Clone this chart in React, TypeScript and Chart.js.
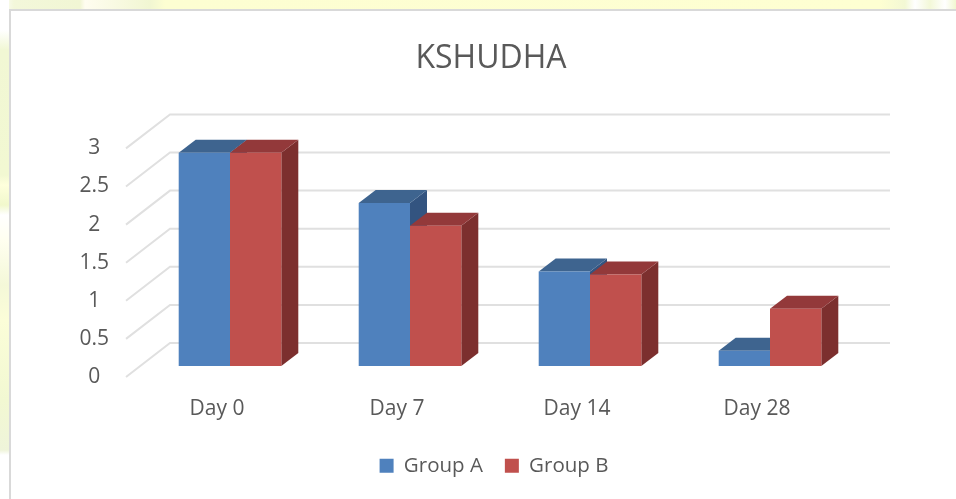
import React, { useEffect, useRef } from "react";
import { Chart, registerables } from "chart.js";

Chart.register(...registerables);

const categories = ["Day 0", "Day 7", "Day 14", "Day 28"];
const groupA = [2.8, 2.14, 1.24, 0.2];
const groupB = [2.8, 1.84, 1.2, 0.75];
const yTicks = [0, 0.5, 1, 1.5, 2, 2.5, 3];

const FONT = '"Open Sans", sans-serif';
const TEXT = "#595959";
const GRID = "#e0e0e0";
const FRONT = ["#4f81bd", "#c0504d"];
const TOP = ["#3e648f", "#93393a"];
const SIDE = ["#335480", "#7c2f2e"];
const BAR_DX = 17;
const BAR_DY = 13;
const WALL_DX = 30;
const WALL_DY = 23;
const FLOOR_DX = 14;
const FLOOR_DY = 11;

const poly = (ctx: CanvasRenderingContext2D, pts: number[][], fill: string) => {
  ctx.beginPath();
  pts.forEach(([x, y], i) => (i ? ctx.lineTo(x, y) : ctx.moveTo(x, y)));
  ctx.closePath();
  ctx.fillStyle = fill;
  ctx.fill();
};

const depthPlugin = {
  id: "depth",
  afterLayout(chart: any) {
    chart.legend.left += 3;
    chart.legend.right += 3;
  },
  beforeDatasetsDraw(chart: any) {
    const { ctx, chartArea, scales } = chart;
    ctx.save();
    ctx.strokeStyle = GRID;
    ctx.lineWidth = 2;
    yTicks.forEach((v) => {
      const y = scales.y.getPixelForValue(v);
      ctx.beginPath();
      ctx.moveTo(chartArea.left - FLOOR_DX, y + FLOOR_DY);
      ctx.lineTo(chartArea.left + WALL_DX, y - WALL_DY);
      ctx.lineTo(chartArea.right + WALL_DX, y - WALL_DY);
      ctx.stroke();
    });
    categories.forEach((_, i) => {
      chart.data.datasets.forEach((_d: any, d: number) => {
        const bar = chart.getDatasetMeta(d).data[i];
        const l = bar.x - bar.width / 2;
        const r = bar.x + bar.width / 2;
        poly(ctx, [[r, bar.y], [r + BAR_DX, bar.y - BAR_DY], [r + BAR_DX, bar.base - BAR_DY], [r, bar.base]], SIDE[d]);
        poly(ctx, [[l, bar.y], [l + BAR_DX, bar.y - BAR_DY], [r + BAR_DX, bar.y - BAR_DY], [r, bar.y]], TOP[d]);
      });
    });
    ctx.restore();
  },
};

export default function App() {
  const ref = useRef<HTMLCanvasElement>(null);
  useEffect(() => {
    const chart = new Chart(ref.current!, {
      type: "bar",
      data: {
        labels: categories,
        datasets: [
          { label: "Group A", data: groupA, backgroundColor: FRONT[0] },
          { label: "Group B", data: groupB, backgroundColor: FRONT[1] },
        ],
      },
      options: {
        responsive: false,
        animation: false,
        layout: { padding: { left: 26, right: 0, top: 0, bottom: 13 } },
        datasets: { bar: { categoryPercentage: 0.57, barPercentage: 1 } },
        scales: {
          x: {
            grid: { display: false, drawTicks: false },
            border: { display: false },
            afterFit: (s: any) => { s.height = 67.5; },
            ticks: {
              font: { family: FONT, size: 21 },
              color: TEXT,
              padding: 30,
              labelOffset: -13,
              maxRotation: 0,
              autoSkip: false,
            },
          },
          y: {
            min: 0,
            max: 3,
            grid: { display: false, drawTicks: false },
            border: { display: false },
            afterFit: (s: any) => { s.width = 114; },
            ticks: {
              stepSize: 0.5,
              font: { family: FONT, size: 21 },
              color: TEXT,
              padding: 31,
              crossAlign: "center",
              labelOffset: 11,
              callback: (v: any) => String(v),
            },
          },
          spacer: {
            type: "linear",
            position: "right",
            display: true,
            grid: { display: false, drawTicks: false },
            border: { display: false },
            ticks: { display: false },
            afterFit: (s: any) => { s.width = 96; },
          },
        },
        plugins: {
          tooltip: { enabled: false },
          title: {
            display: true,
            text: "KSHUDHA",
            color: TEXT,
            font: { family: FONT, size: 32, weight: "normal" },
            padding: { top: 40, bottom: 59 },
          },
          legend: {
            position: "bottom",
            labels: {
              boxWidth: 14,
              boxHeight: 14,
              padding: 22,
              color: TEXT,
              font: { family: FONT, size: 20.5 },
            },
          },
        },
      },
      plugins: [depthPlugin],
    } as any);
    return () => chart.destroy();
  }, []);

  const topStrip =
    "linear-gradient(90deg,#fff 0,#f3f7da 14px,#f1f6d4 80px,#fffdf0 85px,#f1f6d2 150px,#fdfed2 165px,#feffd2 880px,#f3f8d4 905px,#fff 915px,#f3f8d8 930px,#fff 945px,#f1f7d0 956px)";
  const leftStrip =
    "linear-gradient(180deg,#fff 0,#fff 30px,#f1f7d4 50px,#f2f8d2 175px,#feffdc 185px,#f1f8cc 205px,#fff 215px,#fffff0 240px,#f4f8d8 285px,#fbfdd8 320px,#f2f8d2 400px,#eff4da 450px,#fff 455px)";

  return (
    <div style={{ position: "fixed", left: 0, top: 0, width: 956, height: 499, overflow: "hidden", background: "#fff" }}>
      <div style={{ position: "absolute", left: 0, top: 0, width: 956, height: 9, background: topStrip }} />
      <div style={{ position: "absolute", left: 0, top: 0, width: 9, height: 499, background: leftStrip }} />
      <div
        style={{
          position: "absolute",
          left: 9,
          top: 9,
          width: 960,
          height: 510,
          background: "#fff",
          borderLeft: "2px solid #d9d9d9",
          borderTop: "2px solid #d9d9d9",
        }}
      />
      <canvas ref={ref} width={956} height={499} style={{ position: "absolute", left: 0, top: 0, display: "block" }} />
    </div>
  );
}
